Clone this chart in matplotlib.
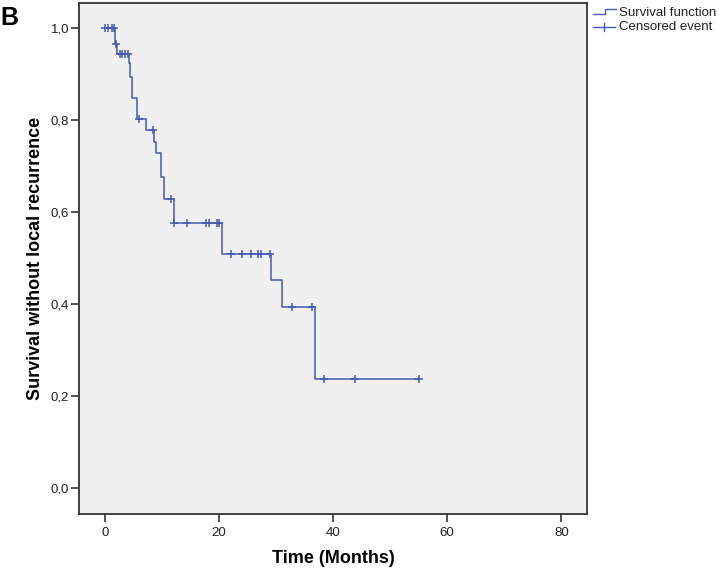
import numpy as np
import matplotlib.pyplot as plt
from matplotlib.lines import Line2D

# Kaplan-Meier steps
event_times = [1.84, 2.14, 4.17, 4.47, 4.76, 5.64, 7.27, 8.72, 9.02, 9.84, 10.33, 12.08,
               20.5, 29.1, 31.0, 36.9]
surv_levels = [0.965, 0.943, 0.923, 0.894, 0.847, 0.801, 0.777, 0.753, 0.728, 0.675, 0.628,
               0.575, 0.509, 0.451, 0.394, 0.238]
censor_times = [0.1, 0.6, 1.2, 1.7, 2.0, 2.6, 3.0, 3.5, 4.0, 6.0, 8.44, 11.7, 12.2, 14.45,
                17.7, 18.25, 19.6, 20.1, 22.1, 24.1, 25.7, 26.8, 27.3, 29.0, 32.8, 36.4,
                38.5, 43.9, 55.0]

x_ticks = [0, 20, 40, 60, 80]
y_ticks = [0.0, 0.2, 0.4, 0.6, 0.8, 1.0]
y_ticklabels = ['0,0', '0,2', '0,4', '0,6', '0,8', '1,0']

line_col = '#4659b0'
plt.rcParams['font.family'] = ['Liberation Sans', 'DejaVu Sans']

fig = plt.figure(figsize=(7.19, 5.70), dpi=100)
ax = fig.add_axes([0.1099, 0.0982, 0.8164 - 0.1099, 0.9947 - 0.0982])
ax.set_facecolor('#f0f0f0')

# survival curve
xs = [0] + event_times + [censor_times[-1]]
ys = [1.0] + surv_levels + [surv_levels[-1]]
ax.step(xs, ys, where='post', color=line_col, lw=1.1)

# censored marks sit on the current level of the curve
idx = np.searchsorted(event_times, censor_times, side='right')
levels = np.concatenate([[1.0], surv_levels])
ax.plot(censor_times, levels[idx], linestyle='none', marker='+', ms=5.5, mew=1.1, color=line_col)

ax.set_xlim(-4.5, 84.5)
ax.set_ylim(-0.0565, 1.054)
ax.set_xticks(x_ticks)
ax.set_yticks(y_ticks)
ax.set_yticklabels(y_ticklabels)
ax.tick_params(direction='out', length=6, width=1.2, color='#333333', labelsize=9.5,
               labelcolor='#222222')
ax.tick_params(axis='y', pad=1)
for s in ax.spines.values():
    s.set_color('#333333')
    s.set_linewidth(1.3)

ax.set_xlabel('Time (Months)', fontsize=13, fontweight='bold', labelpad=8)
ax.set_ylabel('Survival without local recurrence', fontsize=13, fontweight='bold', labelpad=5)

# legend drawn by hand, outside the axes (pixel coords -> figure fractions)
W, H = 719.0, 570.0
def fx(px):
    return px / W
def fy(py):
    return 1 - py / H

fig.add_artist(Line2D([fx(593), fx(605), fx(605), fx(616)], [fy(14), fy(14), fy(9), fy(9)],
                      color=line_col, lw=1.0, transform=fig.transFigure))
fig.add_artist(Line2D([fx(593), fx(615)], [fy(27), fy(27)], color=line_col, lw=1.0,
                      transform=fig.transFigure))
fig.add_artist(Line2D([fx(603.5), fx(603.5)], [fy(23), fy(31)], color=line_col, lw=1.0,
                      transform=fig.transFigure))
fig.text(fx(619), fy(13), 'Survival function', fontsize=9.5, va='center', color='#222222')
fig.text(fx(619), fy(27), 'Censored event', fontsize=9.5, va='center', color='#222222')

fig.text(fx(0), fy(18), 'B', fontsize=18, fontweight='bold', va='center', ha='left')

fig.savefig('out.png', dpi=100)
